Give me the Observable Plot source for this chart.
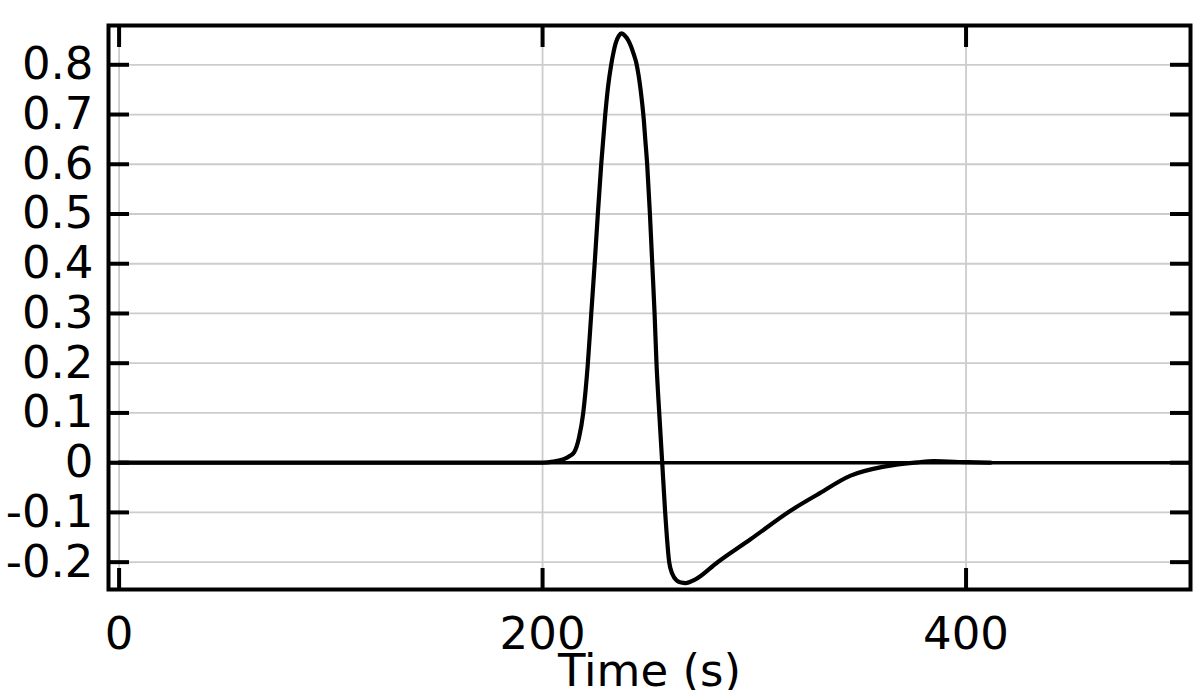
<!DOCTYPE html>
<html><head><meta charset="utf-8">
<script src="https://cdn.jsdelivr.net/npm/d3@7"></script>
<script src="https://cdn.jsdelivr.net/npm/@observablehq/plot@0.6"></script>
<style>html,body{margin:0;padding:0;background:#fff;} svg{display:block}</style>
</head><body><div id="chart"></div>
<script>
const timeS = [0, 200, 205, 210, 213, 214.8, 217.2, 219.2, 221.4, 223.0, 224.6, 226.1, 227.7, 229.6, 230.9, 232.4, 233.5, 234.5, 236, 237.3, 239, 240.5, 241.8, 243, 244.2, 245.3, 246.3, 247.1, 247.8, 248.5, 249.4, 250.7, 251.8, 252.9, 253.8, 255.1, 256.5, 257.9, 259.8, 261.3, 263.6, 265.5, 267.5, 272, 282.5, 298.2, 317.1, 329.7, 345.5, 361.2, 377, 384.8, 400.6, 411.6];
const signal = [0, 0, 0.002, 0.007, 0.014, 0.02, 0.05, 0.1, 0.2, 0.3, 0.4, 0.5, 0.6, 0.7, 0.755, 0.8, 0.825, 0.843, 0.858, 0.863, 0.858, 0.849, 0.837, 0.822, 0.805, 0.78, 0.75, 0.72, 0.69, 0.65, 0.6, 0.5, 0.4, 0.3, 0.2, 0.1, 0, -0.1, -0.2, -0.224, -0.2375, -0.241, -0.242, -0.235, -0.2006, -0.154, -0.0966, -0.0644, -0.026, -0.008, 0.0006, 0.003, 0.001, 0];
const xTicks = [0, 200, 400];
const xTickLabels = ["0", "200", "400"];
const yTicks = [-0.2, -0.1, 0, 0.1, 0.2, 0.3, 0.4, 0.5, 0.6, 0.7, 0.8];
const yTickLabels = ["-0.2", "-0.1", "0", "0.1", "0.2", "0.3", "0.4", "0.5", "0.6", "0.7", "0.8"];
const xLabel = "Time (s)";

const data = timeS.map((t, i) => ({t, v: signal[i]}));
const grid = {stroke: "#cccccc", strokeOpacity: 1, strokeWidth: 1.8};
const tickStyle = {tickSize: -21, strokeWidth: 4, stroke: "black", fill: "none", label: null};

const chart = Plot.plot({
  width: 1200, height: 690,
  marginLeft: 108, marginRight: 10, marginTop: 25, marginBottom: 101,
  style: {fontFamily: "DejaVu Sans", fontSize: "45px", background: "white", color: "black", overflow: "visible"},
  x: {domain: [-5, 506]},
  y: {domain: [-0.255, 0.879]},
  marks: [
    Plot.gridX(xTicks, grid),
    Plot.gridY(yTicks, grid),
    Plot.ruleY([0], {stroke: "black", strokeWidth: 3.5}),
    Plot.line(data, {x: "t", y: "v", stroke: "black", strokeWidth: 4.2, curve: "monotone-x"}),
    Plot.axisX(xTicks, {anchor: "bottom", ...tickStyle}),
    Plot.axisX(xTicks, {anchor: "top", ...tickStyle}),
    Plot.axisY(yTicks, {anchor: "left", ...tickStyle}),
    Plot.axisY(yTicks, {anchor: "right", ...tickStyle}),
    Plot.axisX(xTicks, {anchor: "bottom", tickSize: 0, tickPadding: 28, tickFormat: d => xTickLabels[xTicks.indexOf(d)], label: null, fontSize: 45, fill: "black"}),
    Plot.axisY(yTicks, {anchor: "left", tickSize: 0, tickPadding: 15, tickFormat: d => yTickLabels[yTicks.indexOf(d)], label: null, fontSize: 45, fill: "black"}),
    Plot.frame({stroke: "black", strokeWidth: 4}),
    Plot.text([xLabel], {frameAnchor: "bottom", lineAnchor: "top", dy: 65, fontSize: 45, fill: "black"})
  ]
});
document.getElementById("chart").appendChild(chart);
</script>
</body></html>
